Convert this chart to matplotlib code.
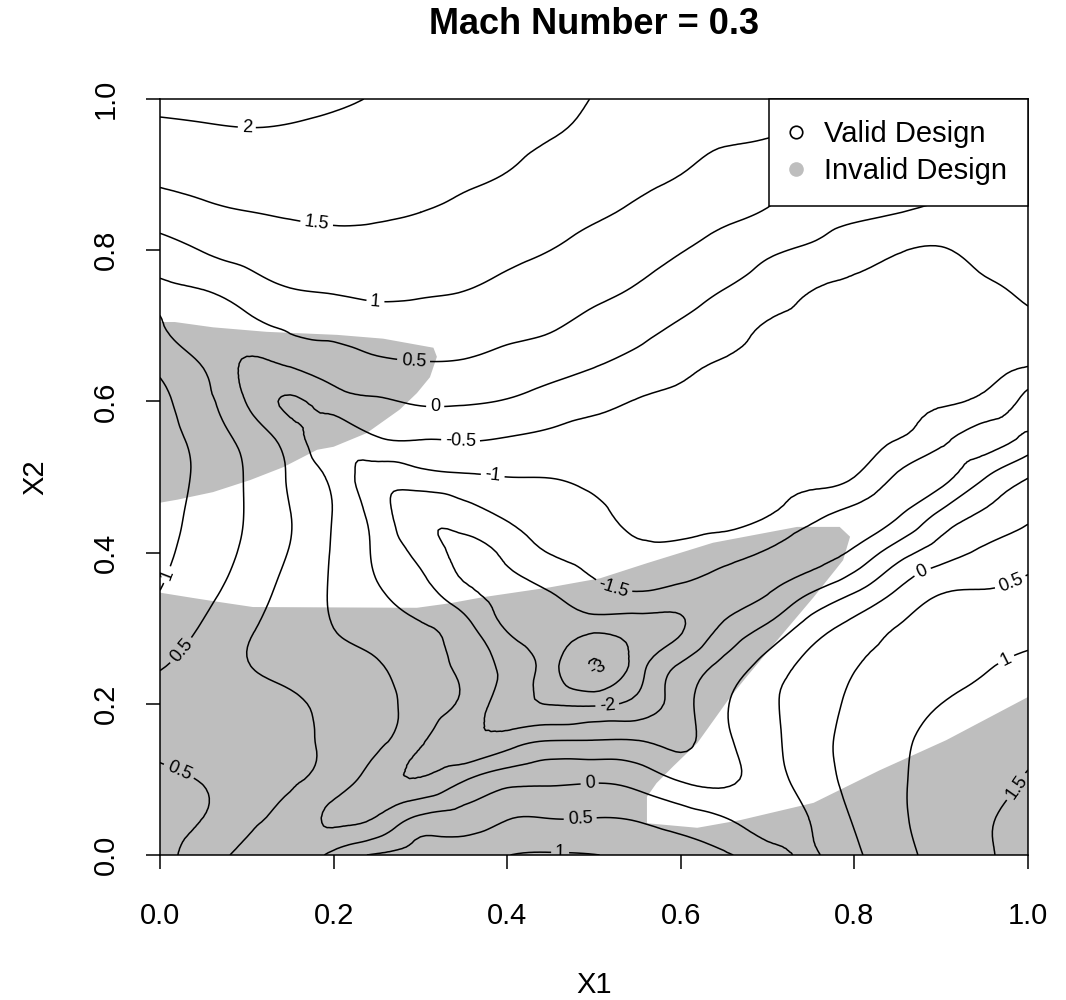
import numpy as np
import matplotlib
matplotlib.use("Agg")
import matplotlib.pyplot as plt
from matplotlib.lines import Line2D
from matplotlib.tri import Triangulation, UniformTriRefiner

plt.rcParams["font.family"] = ["Liberation Sans", "DejaVu Sans"]
plt.rcParams["contour.negative_linestyle"] = "solid"

# grid of the design space (X1 across, X2 up), step 0.05
x1_nodes = np.linspace(0, 1, 21)
x2_nodes = np.linspace(0, 1, 21)

# response, one row per X2 value (0.00 ... 1.00)
response = [
    [0.72, 0.22, -0.17, -0.46, 0.16, 0.55, 0.68, 0.84, 0.99, 1.04, 1.01, 0.87, 0.71, 0.55, 0.23, -0.05, 0.40, 0.84, 1.17, 1.44, 1.68],
    [0.65, 0.50, 0.18, -0.21, -0.58, -0.48, 0.07, 0.19, 0.46, 0.48, 0.49, 0.44, 0.24, 0.00, -0.25, 0.03, 0.55, 0.93, 1.20, 1.45, 1.60],
    [0.56, 0.48, 0.28, 0.07, -0.24, -0.75, -0.97, -0.55, -0.19, -0.11, -0.07, -0.20, -0.55, -0.60, -0.23, 0.23, 0.65, 0.94, 1.18, 1.35, 1.53],
    [0.42, 0.35, 0.23, 0.10, -0.08, -0.39, -0.93, -1.40, -1.24, -0.97, -0.96, -0.97, -1.10, -0.62, -0.14, 0.30, 0.65, 0.91, 1.15, 1.28, 1.38],
    [0.35, 0.30, 0.20, 0.07, -0.12, -0.35, -0.66, -1.12, -1.74, -2.02, -2.08, -1.85, -1.22, -0.56, -0.10, 0.27, 0.58, 0.79, 1.00, 1.12, 1.23],
    [0.53, 0.30, 0.02, -0.14, -0.30, -0.46, -0.76, -1.12, -1.63, -2.30, -3.02, -2.25, -1.43, -0.85, -0.30, 0.16, 0.48, 0.65, 0.81, 0.97, 1.08],
    [0.79, 0.45, 0.07, -0.22, -0.50, -0.73, -0.95, -1.30, -2.05, -2.28, -2.36, -2.28, -2.05, -1.40, -0.90, -0.26, 0.18, 0.52, 0.65, 0.78, 0.87],
    [1.00, 0.65, 0.26, -0.16, -0.56, -0.96, -1.30, -1.88, -2.15, -1.98, -1.62, -1.48, -1.62, -1.68, -1.55, -1.06, -0.56, 0.03, 0.46, 0.51, 0.62],
    [1.10, 0.79, 0.41, -0.03, -0.55, -1.08, -1.67, -2.12, -1.88, -1.48, -1.33, -1.11, -1.12, -1.30, -1.55, -1.70, -1.40, -0.73, -0.23, 0.10, 0.30],
    [1.17, 0.85, 0.47, 0.01, -0.52, -1.22, -1.85, -1.75, -1.42, -1.24, -1.13, -0.85, -0.85, -0.85, -0.98, -1.35, -1.65, -1.55, -0.88, -0.42, -0.09],
    [1.22, 0.89, 0.46, -0.05, -0.64, -1.25, -1.19, -1.07, -1.00, -0.99, -0.88, -0.78, -0.80, -0.84, -0.89, -0.90, -1.00, -1.58, -1.65, -1.03, -0.52],
    [1.20, 0.82, 0.35, -0.24, -0.80, -0.55, -0.49, -0.47, -0.53, -0.62, -0.68, -0.65, -0.69, -0.74, -0.79, -0.85, -0.91, -1.00, -1.38, -1.65, -1.35],
    [1.10, 0.66, -0.03, -0.55, -0.25, -0.05, 0.06, 0.05, -0.03, -0.20, -0.36, -0.52, -0.57, -0.64, -0.71, -0.76, -0.82, -0.90, -0.96, -1.13, -1.70],
    [0.91, 0.45, -0.05, 0.07, 0.25, 0.41, 0.48, 0.46, 0.34, 0.21, 0.04, -0.16, -0.39, -0.53, -0.61, -0.67, -0.73, -0.80, -0.84, -0.87, -0.95],
    [0.58, 0.08, 0.32, 0.58, 0.69, 0.79, 0.79, 0.75, 0.65, 0.55, 0.36, 0.18, -0.06, -0.29, -0.53, -0.58, -0.64, -0.70, -0.73, -0.72, -0.61],
    [0.44, 0.53, 0.80, 1.00, 1.05, 1.10, 1.07, 1.02, 0.90, 0.77, 0.63, 0.47, 0.24, 0.01, -0.24, -0.48, -0.56, -0.60, -0.61, -0.56, -0.40],
    [0.80, 1.02, 1.16, 1.26, 1.32, 1.32, 1.28, 1.22, 1.11, 1.00, 0.85, 0.70, 0.52, 0.32, 0.08, -0.08, -0.30, -0.47, -0.53, -0.36, -0.26],
    [1.25, 1.40, 1.49, 1.55, 1.58, 1.56, 1.50, 1.42, 1.30, 1.17, 1.06, 0.93, 0.76, 0.60, 0.46, 0.22, 0.10, 0.01, -0.10, -0.12, -0.12],
    [1.60, 1.66, 1.72, 1.73, 1.72, 1.68, 1.63, 1.56, 1.49, 1.34, 1.22, 1.10, 1.00, 0.85, 0.73, 0.50, 0.35, 0.23, 0.14, 0.09, 0.03],
    [1.86, 1.90, 1.94, 1.92, 1.87, 1.82, 1.76, 1.68, 1.60, 1.51, 1.40, 1.25, 1.13, 1.05, 1.01, 0.86, 0.65, 0.45, 0.30, 0.22, 0.17],
    [2.13, 2.17, 2.19, 2.15, 2.07, 1.97, 1.88, 1.79, 1.69, 1.59, 1.49, 1.40, 1.31, 1.22, 1.14, 1.07, 1.02, 0.98, 0.62, 0.45, 0.32],
]
levels = [-3.0, -2.5, -2.0, -1.5, -1.0, -0.5, 0.0, 0.5, 1.0, 1.5, 2.0]

# invalid design regions (grey), outlines
invalid_upper_x1 = [0, 0.017, 0.061, 0.123, 0.204, 0.257, 0.315, 0.319, 0.311, 0.296,
                    0.276, 0.238, 0.2, 0.181, 0.142, 0.104, 0.061, 0.02, 0]
invalid_upper_x2 = [0.705, 0.705, 0.698, 0.692, 0.688, 0.683, 0.671, 0.659, 0.632, 0.611,
                    0.589, 0.558, 0.54, 0.536, 0.513, 0.496, 0.48, 0.47, 0.466]
invalid_lower_x1 = [0, 0.038, 0.066, 0.107, 0.296, 0.334, 0.372, 0.449, 0.507, 0.561, 0.637,
                    0.734, 0.783, 0.795, 0.787, 0.753, 0.714, 0.676, 0.657, 0.619, 0.591,
                    0.572, 0.561, 0.561, 0.619, 0.668, 0.753, 0.829, 0.906, 1, 1, 0]
invalid_lower_x2 = [0.347, 0.34, 0.335, 0.328, 0.327, 0.333, 0.341, 0.354, 0.366, 0.386, 0.413,
                    0.434, 0.434, 0.421, 0.39, 0.341, 0.288, 0.236, 0.209, 0.148, 0.117,
                    0.095, 0.077, 0.042, 0.036, 0.046, 0.069, 0.112, 0.152, 0.209, 0, 0]

# where R put the contour labels
label_spots = [(0.10, 0.962), (0.18, 0.831), (0.248, 0.73), (0.292, 0.651), (0.317, 0.591),
               (0.346, 0.542), (0.383, 0.499), (0.521, 0.348), (0.515, 0.201), (0.503, 0.251),
               (0.495, 0.095), (0.484, 0.05), (0.461, 0.004), (0.879, 0.373), (0.98, 0.36),
               (0.975, 0.258), (0.987, 0.09), (0.01, 0.37), (0.025, 0.27), (0.025, 0.12)]

grey = "#BEBEBE"

fig = plt.figure(figsize=(10.66, 10.0), dpi=100)
ax = fig.add_axes([160 / 1066, 145 / 1000, 868 / 1066, 756 / 1000])

ax.fill(invalid_upper_x1, invalid_upper_x2, color=grey, lw=0, zorder=1)
ax.fill(invalid_lower_x1, invalid_lower_x2, color=grey, lw=0, zorder=1)

X, Y = np.meshgrid(x1_nodes, x2_nodes)
tri = Triangulation(X.ravel(), Y.ravel())
tri_fine, z_fine = UniformTriRefiner(tri).refine_field(np.array(response).ravel(), subdiv=3)
cs = ax.tricontour(tri_fine, z_fine, levels=levels, colors="black", linewidths=1.1,
                   linestyles="solid", zorder=2)
ax.clabel(cs, manual=label_spots, inline=True, inline_spacing=4, fontsize=13,
          fmt=lambda v: "%g" % v)

ax.set_xlim(0, 1)
ax.set_ylim(0, 1)
ticks = [0.0, 0.2, 0.4, 0.6, 0.8, 1.0]
ax.set_xticks(ticks)
ax.set_yticks(ticks)
ax.set_xticklabels(["%.1f" % t for t in ticks])
ax.set_yticklabels(["%.1f" % t for t in ticks], rotation=90, va="center")
ax.tick_params(direction="out", length=10, width=1.1, labelsize=21)
ax.tick_params(axis="x", pad=24)
ax.tick_params(axis="y", pad=19)
for s in ax.spines.values():
    s.set_linewidth(1.1)

handles = [
    Line2D([], [], ls="", marker="o", ms=9, mfc="white", mec="black", mew=1.2),
    Line2D([], [], ls="", marker="o", ms=9.5, mfc=grey, mec=grey),
]
leg = ax.legend(handles, ["Valid Design", "Invalid Design"], loc="upper right",
                bbox_to_anchor=(1, 1), borderaxespad=0, fontsize=21, fancybox=False,
                edgecolor="black", framealpha=1, borderpad=0.72, labelspacing=0.32,
                handlelength=0.4, handletextpad=0.75)
leg.get_frame().set_linewidth(1.1)
leg.set_zorder(5)

fig.text(594 / 1066, 1 - 25 / 1000, "Mach Number = 0.3", ha="center", va="center",
         fontsize=26, fontweight="bold")
fig.text(594 / 1066, 1 - 985 / 1000, "X1", ha="center", va="center", fontsize=21)
fig.text(35 / 1066, 1 - 477 / 1000, "X2", ha="center", va="center", fontsize=21, rotation=90)

fig.savefig("out.png", dpi=100)
